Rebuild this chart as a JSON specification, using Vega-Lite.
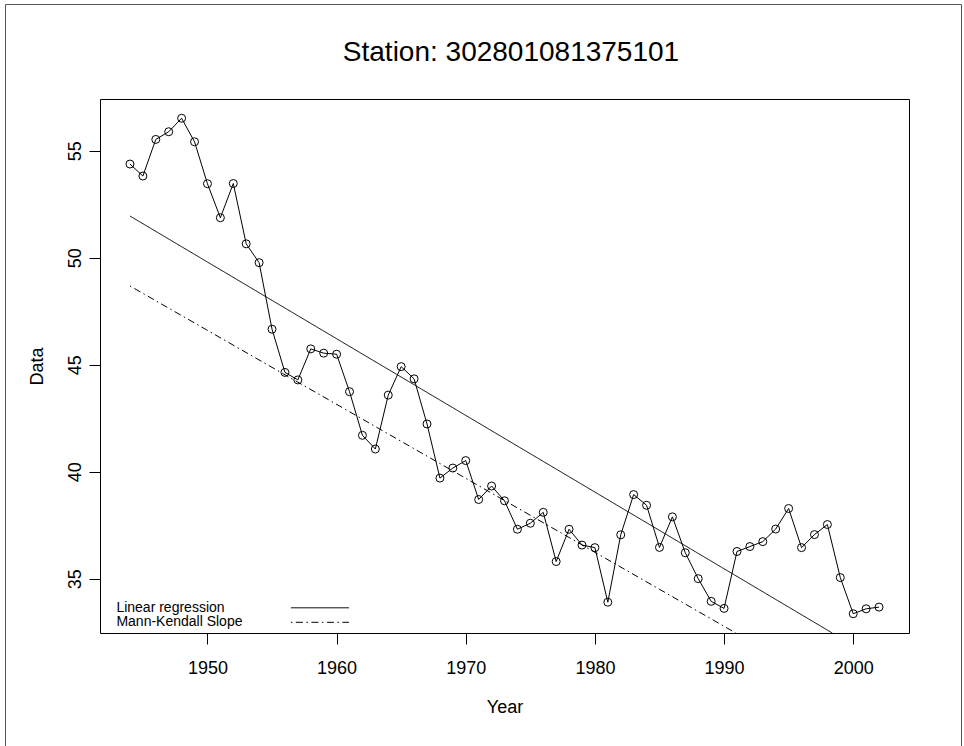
{
  "$schema": "https://vega.github.io/schema/vega-lite/v6.json",
  "width": 956,
  "height": 742,
  "autosize": {"type": "none"},
  "padding": {"left": 5, "top": 4, "right": 3, "bottom": 0},
  "background": "white",
  "title": {
    "text": "Station: 302801081375101",
    "font": "Liberation Sans",
    "fontSize": 28,
    "fontWeight": "normal",
    "color": "black",
    "anchor": "middle",
    "frame": "group",
    "baseline": "alphabetic",
    "offset": -57,
    "dx": 28,
    "dy": 27.5
  },
  "config": {
    "font": "Liberation Sans",
    "view": {"stroke": "#555", "strokeWidth": 1, "strokeDash": [1698, 956, 742, 0]},
    "axis": {
      "grid": false,
      "domainColor": "black",
      "tickColor": "black",
      "labelColor": "black",
      "titleColor": "black",
      "labelFont": "Liberation Sans",
      "titleFont": "Liberation Sans",
      "titleFontWeight": "normal"
    }
  },
  "datasets": {
    "obs": [
      {"year": 1944, "value": 54.38},
      {"year": 1945, "value": 53.82},
      {"year": 1946, "value": 55.53},
      {"year": 1947, "value": 55.89},
      {"year": 1948, "value": 56.52},
      {"year": 1949, "value": 55.42},
      {"year": 1950, "value": 53.46},
      {"year": 1951, "value": 51.87},
      {"year": 1952, "value": 53.47},
      {"year": 1953, "value": 50.65},
      {"year": 1954, "value": 49.77},
      {"year": 1955, "value": 46.66},
      {"year": 1956, "value": 44.64},
      {"year": 1957, "value": 44.29},
      {"year": 1958, "value": 45.74},
      {"year": 1959, "value": 45.54},
      {"year": 1960, "value": 45.49},
      {"year": 1961, "value": 43.74},
      {"year": 1962, "value": 41.7},
      {"year": 1963, "value": 41.06},
      {"year": 1964, "value": 43.58},
      {"year": 1965, "value": 44.91},
      {"year": 1966, "value": 44.34},
      {"year": 1967, "value": 42.23},
      {"year": 1968, "value": 39.7},
      {"year": 1969, "value": 40.17},
      {"year": 1970, "value": 40.52},
      {"year": 1971, "value": 38.7},
      {"year": 1972, "value": 39.33},
      {"year": 1973, "value": 38.64},
      {"year": 1974, "value": 37.31},
      {"year": 1975, "value": 37.59},
      {"year": 1976, "value": 38.1},
      {"year": 1977, "value": 35.8},
      {"year": 1978, "value": 37.31},
      {"year": 1979, "value": 36.57},
      {"year": 1980, "value": 36.45},
      {"year": 1981, "value": 33.9},
      {"year": 1982, "value": 37.05},
      {"year": 1983, "value": 38.93},
      {"year": 1984, "value": 38.43},
      {"year": 1985, "value": 36.46},
      {"year": 1986, "value": 37.89},
      {"year": 1987, "value": 36.21},
      {"year": 1988, "value": 35.0},
      {"year": 1989, "value": 33.94},
      {"year": 1990, "value": 33.61},
      {"year": 1991, "value": 36.27},
      {"year": 1992, "value": 36.5},
      {"year": 1993, "value": 36.73},
      {"year": 1994, "value": 37.32},
      {"year": 1995, "value": 38.28},
      {"year": 1996, "value": 36.45},
      {"year": 1997, "value": 37.06},
      {"year": 1998, "value": 37.53},
      {"year": 1999, "value": 35.05},
      {"year": 2000, "value": 33.36},
      {"year": 2001, "value": 33.59},
      {"year": 2002, "value": 33.67}
    ],
    "trend": [
      {"year": 1944, "value": 51.95, "method": "Linear regression"},
      {"year": 1998.38, "value": 32.46, "method": "Linear regression"},
      {"year": 1944, "value": 48.68, "method": "Mann-Kendall Slope"},
      {"year": 1990.91, "value": 32.46, "method": "Mann-Kendall Slope"}
    ]
  },
  "layer": [
    {
      "data": {"name": "obs"},
      "mark": {"type": "line", "color": "black", "strokeWidth": 1},
      "encoding": {
        "x": {
          "field": "year", "type": "quantitative",
          "scale": {"domain": [1941.68, 2004.32], "range": [95, 904], "nice": false, "zero": false},
          "axis": {
            "orient": "bottom", "offset": -113,
            "values": [1950, 1960, 1970, 1980, 1990, 2000], "format": "d",
            "tickSize": 11, "labelPadding": 15, "labelFontSize": 18,
            "title": "Year", "titleFontSize": 18, "titleY": 79, "titleBaseline": "alphabetic"
          }
        },
        "y": {
          "field": "value", "type": "quantitative",
          "scale": {"domain": [32.46, 57.42], "range": [629, 95], "nice": false, "zero": false},
          "axis": {
            "orient": "left", "offset": -95,
            "values": [35, 40, 45, 50, 55],
            "tickSize": 11, "labelAngle": -90, "labelAlign": "center", "labelBaseline": "alphabetic",
            "labelPadding": 9, "labelFontSize": 18,
            "title": "Data", "titleFontSize": 18, "titleX": -58, "titleBaseline": "alphabetic"
          }
        }
      }
    },
    {
      "data": {"name": "obs"},
      "mark": {"type": "point", "shape": "circle", "filled": false, "size": 64, "stroke": "black", "strokeWidth": 1, "opacity": 1},
      "encoding": {
        "x": {"field": "year", "type": "quantitative", "axis": null},
        "y": {"field": "value", "type": "quantitative", "axis": null}
      }
    },
    {
      "data": {"name": "trend"},
      "mark": {"type": "line", "color": "black", "strokeWidth": 1},
      "encoding": {
        "x": {
          "field": "year", "type": "quantitative",
          "axis": {"orient": "top", "offset": -95, "ticks": false, "labels": false, "title": null, "domain": true}
        },
        "y": {
          "field": "value", "type": "quantitative",
          "axis": {"orient": "right", "offset": -52, "ticks": false, "labels": false, "title": null, "domain": true}
        },
        "strokeDash": {
          "field": "method", "type": "nominal",
          "scale": {"domain": ["Linear regression", "Mann-Kendall Slope"], "range": [[1, 0], [1.5, 3.5, 7, 3.5]]},
          "legend": {
            "orient": "none", "legendX": 307.9, "legendY": 596.8, "title": null,
            "labelFontSize": 14, "labelFont": "Liberation Sans", "labelColor": "black",
            "symbolType": "M-29,0H29", "symbolSize": 4, "symbolStrokeWidth": 1, "symbolStrokeColor": "black",
            "symbolFillColor": "transparent",
            "labelOffset": -210.5, "symbolOffset": 0, "rowPadding": 0.5, "padding": 0
          }
        }
      }
    }
  ],
  "resolve": {"axis": {"x": "independent", "y": "independent"}}
}
